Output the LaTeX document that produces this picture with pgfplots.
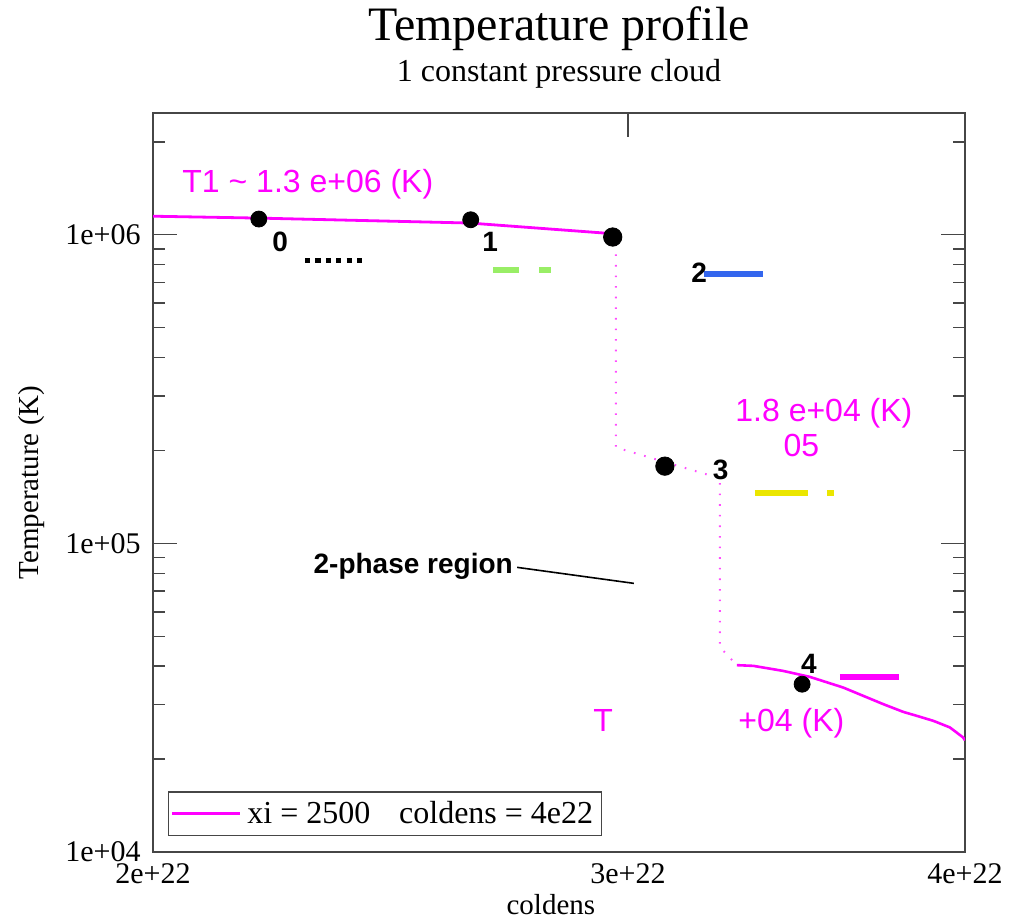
\documentclass[border=0pt]{standalone}
\usepackage{pgfplots}
\pgfplotsset{compat=1.18}
\usepackage{fontspec}
\setmainfont{Liberation Serif}
\newfontfamily\sansf{Liberation Sans}

\definecolor{framegray}{RGB}{70,70,70}
\definecolor{magline}{RGB}{255,0,255}
\definecolor{segGreen}{RGB}{153,238,102}
\definecolor{segBlue}{RGB}{51,102,238}
\definecolor{segYellow}{RGB}{235,230,0}

\newcommand{\numlbl}{\sansf\bfseries\fontsize{14}{17}\selectfont}
\newcommand{\tlbl}{\sansf\fontsize{16}{19}\selectfont}

\begin{document}
\begin{tikzpicture}
% column density is given in units of 1e22 cm^-2
\begin{axis}[
  name=ax,
  scale only axis,
  width=406pt, height=369.5pt,
  xmode=log, ymode=log,
  xmin=2, xmax=4,
  ymin=1e4, ymax=2.48e6,
  xtick={2,3,4},
  xticklabels={\textnormal{2e+22},\textnormal{3e+22},\textnormal{4e+22}},
  minor xtick={},
  xtick pos=upper, xticklabel pos=lower,
  ytick={1e4,1e5,1e6},
  yticklabels={\textnormal{1e+04},\textnormal{1e+05},\textnormal{1e+06}},
  minor ytick={2e4,3e4,4e4,5e4,6e4,7e4,8e4,9e4,2e5,3e5,4e5,5e5,6e5,7e5,8e5,9e5,2e6},
  tick align=inside,
  major tick length=12pt, minor tick length=6pt,
  axis line style={draw=framegray, line width=0.75pt},
  every tick/.append style={framegray, line width=0.75pt},
  tick label style={font=\fontsize{15}{18}\selectfont},
  yticklabel style={inner ysep=0pt, inner xsep=1pt, xshift=-5pt},
  xticklabel style={inner ysep=0.5pt, yshift=-5pt},
  label style={font=\fontsize{14.5}{17}\selectfont},
  xlabel={coldens},
  ylabel={Temperature (K)},
  xlabel style={at={(axis description cs:0.49,-0.071)}, anchor=center},
  ylabel style={at={(axis description cs:-0.149,0.5)}, anchor=center},
  legend style={at={(axis description cs:0.0185,0.022)}, anchor=south west,
    draw=framegray, line width=0.6pt, font=\fontsize{16}{19}\selectfont,
    inner xsep=1pt, inner ysep=2.5pt, nodes={inner ysep=2pt, inner xsep=3pt}},
  legend image code/.code={\path (0pt,0pt) -- (34pt,0pt);
    \draw[#1] (8pt,0pt) -- (31pt,0pt);},
]

% hot phase
\addplot[magline, line width=1.4pt] coordinates {
  (2.000,1.148e6) (2.189,1.132e6) (2.400,1.111e6)
  (2.621,1.091e6) (2.800,1.045e6) (2.962,1.0075e6)
};
\addlegendentry{xi = 2500\hspace{0.9em}coldens = 4e22}

% unstable transition (two-phase region)
\addplot[magline!70, line width=1pt, dash pattern=on 0.8pt off 4.5pt, forget plot] coordinates {
  (2.962,1.0075e6) (2.969,9.6e5) (2.969,2.045e5) (3.209,1.672e5)
  (3.245,1.64e5) (3.245,4.607e4) (3.292,4.03e4)
};

% cool phase
\addplot[magline, line width=1.3pt, forget plot] coordinates {
  (3.292,4.030e4) (3.339,4.009e4) (3.425,3.862e4) (3.504,3.693e4)
  (3.605,3.412e4) (3.731,3.013e4) (3.795,2.844e4) (3.839,2.761e4)
  (3.894,2.660e4) (3.949,2.533e4) (3.994,2.351e4) (4.000,2.300e4)
};

% sampled zones
\addplot[only marks, mark=*, mark size=4pt, black, forget plot] coordinates {
  (2.189,1.124e6) (2.623,1.118e6) (3.481,3.497e4)
};
\addplot[only marks, mark=*, mark size=4.6pt, black, forget plot] coordinates {
  (2.961,9.83e5) (3.096,1.779e5)
};

% line-style keys for the zones
\addplot[black, line width=2.5pt, dash pattern=on 2.6pt off 2.6pt, forget plot]
  coordinates {(2.277,8.238e5) (2.393,8.238e5)};
\addplot[segGreen, line width=3pt, dash pattern=on 13pt off 10pt, forget plot]
  coordinates {(2.674,7.702e5) (2.809,7.702e5)};
\addplot[segBlue, line width=3pt, forget plot]
  coordinates {(3.201,7.477e5) (3.366,7.477e5)};
\addplot[segYellow, line width=3pt, dash pattern=on 26.5pt off 9.5pt, forget plot]
  coordinates {(3.343,1.451e5) (3.577,1.451e5)};
\addplot[magline, line width=3pt, forget plot]
  coordinates {(3.595,3.685e4) (3.781,3.685e4)};

% zone numbers
\node[font=\numlbl] at (axis cs:2.229,9.51e5) {0};
\node[font=\numlbl] at (axis cs:2.667,9.51e5) {1};
\node[font=\numlbl] at (axis cs:3.188,7.516e5) {2};
\node[font=\numlbl] at (axis cs:3.247,1.736e5) {3};
\node[font=\numlbl] at (axis cs:3.501,4.081e4) {4};

% annotations
\node[font=\numlbl, anchor=base west, inner sep=0pt] at (axis cs:2.293,8.0e4) {2-phase region};
\draw[black, line width=0.8pt] (axis cs:2.729,8.36e4) -- (axis cs:3.015,7.42e4);

\node[font=\tlbl, text=magline, anchor=base west, inner sep=0pt] at (axis cs:2.050,1.368e6)
  {T1 \textasciitilde{} 1.3 e+06 (K)};
\node[font=\tlbl, text=magline, anchor=base west, inner sep=0pt] at (axis cs:3.287,2.482e5)
  {1.8 e+04 (K)};
\node[font=\tlbl, text=magline, anchor=base west, inner sep=0pt] at (axis cs:3.425,1.912e5)
  {05};
\node[font=\tlbl, text=magline, anchor=base west, inner sep=0pt] at (axis cs:2.912,2.464e4)
  {T\phantom{3 \textasciitilde{} 3.5 e}+04 (K)};

\end{axis}

\node[anchor=base, font=\fontsize{24}{28}\selectfont] at ([yshift=36pt]ax.north) {Temperature profile};
\node[anchor=base, font=\fontsize{16}{19}\selectfont] at ([yshift=15.5pt]ax.north) {1 constant pressure cloud};

\pgfresetboundingbox
\path[use as bounding box] ([xshift=-76.5pt,yshift=-33.5pt]ax.south west) rectangle ++(513.5pt,459.5pt);
\end{tikzpicture}
\end{document}
